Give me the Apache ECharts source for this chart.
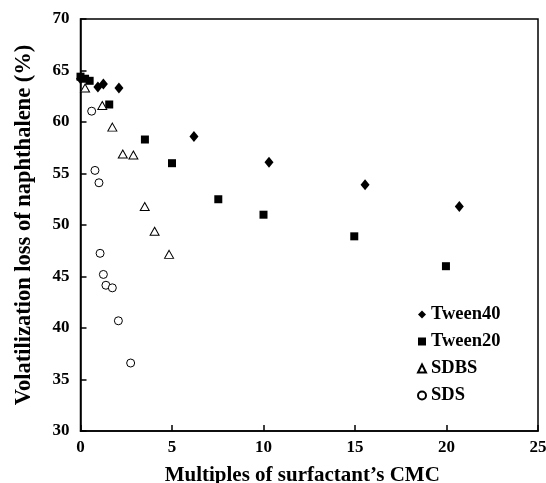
<!DOCTYPE html>
<html><head><meta charset="utf-8">
<script src="https://cdn.jsdelivr.net/npm/echarts@6/dist/echarts.min.js"></script>
<style>html,body{margin:0;padding:0;background:#fff}#c{width:546px;height:483px}</style>
</head><body><div id="c"></div>
<script>
const xTicks = [0, 5, 10, 15, 20, 25];
const yTicks = [30, 35, 40, 45, 50, 55, 60, 65, 70];
const tween40X = [0, 0.95, 1.25, 2.1, 6.2, 10.3, 15.55, 20.7];
const tween40Y = [64.2, 63.4, 63.7, 63.3, 58.6, 56.1, 53.9, 51.8];
const tween20X = [0, 0.25, 0.5, 1.57, 3.52, 5.0, 7.53, 10.0, 14.96, 19.97];
const tween20Y = [64.4, 64.2, 64.0, 61.7, 58.3, 56.0, 52.5, 51.0, 48.9, 46.0];
const sdbsX = [0.25, 1.19, 1.74, 2.31, 2.89, 3.51, 4.05, 4.84];
const sdbsY = [63.3, 61.6, 59.5, 56.9, 56.8, 51.8, 49.4, 47.15];
const sdsX = [0.61, 0.79, 1.01, 1.07, 1.25, 1.39, 1.74, 2.07, 2.74];
const sdsY = [61.05, 55.3, 54.1, 47.25, 45.2, 44.15, 43.9, 40.7, 36.6];

const zip = (a, b) => a.map((v, i) => [v, b[i]]);
const font = '"Liberation Serif", "Times New Roman", serif';
const chart = echarts.init(document.getElementById('c'), null, {renderer: 'canvas'});
chart.setOption({
  animation: false,
  backgroundColor: '#fff',
  grid: {left: 80.5, right: 8, top: 19, bottom: 52, containLabel: false, outerBoundsMode: 'none',
    show: true, borderColor: '#000', borderWidth: 1.5, backgroundColor: 'transparent'},
  legend: {
    orient: 'vertical', left: 412, top: 300, itemGap: 8, itemWidth: 8, itemHeight: 8,
    textStyle: {fontFamily: font, fontWeight: 'bold', fontSize: 18.5, color: '#000'},
    data: ['Tween40', 'Tween20', 'SDBS', 'SDS']
  },
  xAxis: {
    type: 'value', min: 0, max: 25, interval: 5,
    name: 'Multiples of surfactant\u2019s CMC', nameLocation: 'middle', nameGap: 34,
    nameTextStyle: {fontFamily: font, fontWeight: 'bold', fontSize: 21, color: '#000', padding: [0, 14, 0, 0]},
    axisLine: {show: true, lineStyle: {color: '#000', width: 1.5}},
    axisTick: {show: true, inside: true, length: 6, lineStyle: {color: '#000', width: 1.5}},
    axisLabel: {fontFamily: font, fontWeight: 'bold', fontSize: 17, color: '#000', margin: 8,
      formatter: v => xTicks.includes(v) ? String(v) : ''},
    splitLine: {show: false}
  },
  yAxis: {
    type: 'value', min: 30, max: 70, interval: 5,
    name: 'Volatilization loss of naphthalene (%)', nameLocation: 'middle', nameGap: 45,
    nameTextStyle: {fontFamily: font, fontWeight: 'bold', fontSize: 22.5, color: '#000'},
    axisLine: {show: true, lineStyle: {color: '#000', width: 1.5}},
    axisTick: {show: true, inside: true, length: 6, lineStyle: {color: '#000', width: 1.5}},
    axisLabel: {fontFamily: font, fontWeight: 'bold', fontSize: 17, color: '#000', margin: 11,
      formatter: v => yTicks.includes(v) ? String(v) : ''},
    splitLine: {show: false}
  },
  series: [
    {name: 'Tween40', type: 'scatter', symbol: 'diamond', symbolSize: [9, 11], data: zip(tween40X, tween40Y),
      itemStyle: {color: '#000', opacity: 1}},
    {name: 'Tween20', type: 'scatter', symbol: 'rect', symbolSize: 8, data: zip(tween20X, tween20Y),
      itemStyle: {color: '#000', opacity: 1}},
    {name: 'SDBS', type: 'scatter', symbol: 'triangle', symbolSize: [9, 8], data: zip(sdbsX, sdbsY),
      itemStyle: {color: '#fff', borderColor: '#000', borderWidth: 1, opacity: 1}},
    {name: 'SDS', type: 'scatter', symbol: 'circle', symbolSize: 8, data: zip(sdsX, sdsY),
      itemStyle: {color: '#fff', borderColor: '#000', borderWidth: 1, opacity: 1}}
  ]
});
</script></body></html>
